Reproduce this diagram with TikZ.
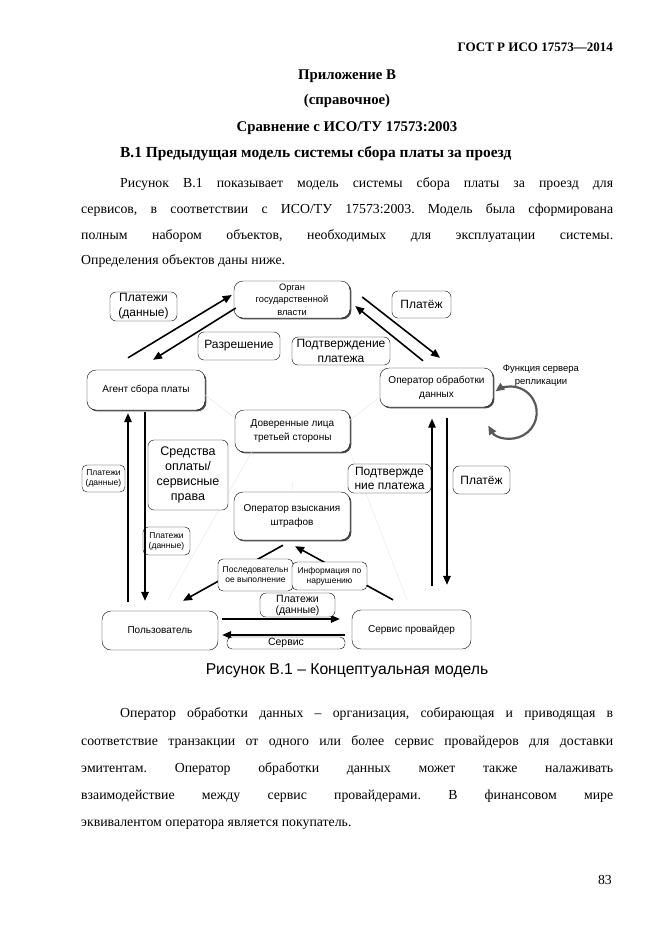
\documentclass[tikz,border=0pt]{standalone}
\usepackage{fontspec}
\setmainfont{Liberation Serif}
\newfontfamily\diagfont{Liberation Sans}
\usetikzlibrary{positioning,arrows.meta,shadows}
\frenchspacing

\newcommand\jline[2]{\makebox[#1][s]{#2}}

\tikzset{
  entbase/.style={draw, rounded corners=9pt, fill=white, align=center, inner sep=1pt,
    font=\diagfont\fontsize{10}{14}\selectfont},
  entity/.style={entbase, drop shadow={shadow xshift=1.4pt, shadow yshift=-1.4pt, fill=black!70, opacity=1}},
  tag/.style={draw, rounded corners=6pt, fill=white, align=center, inner sep=0.5pt,
    font=\diagfont\fontsize{12}{15}\selectfont},
  smalltag/.style={tag, rounded corners=5pt, font=\diagfont\fontsize{8.5}{10}\selectfont},
  flow/.style={-{Triangle[length=9pt,width=7.5pt]}, line width=1.6pt},
  faint/.style={black!10, line width=0.4pt},
  textline/.style={anchor=base west, inner sep=0pt, font=\fontsize{13.8}{16}\selectfont},
  headline/.style={anchor=base, inner sep=0pt, font=\bfseries\fontsize{14.8}{17}\selectfont}
}

\begin{document}
\begin{tikzpicture}[x=1pt, y=-1pt]
  \fill[white] (0,0) rectangle (661,935);
  \useasboundingbox (0,0) rectangle (661,935);

  % page text
  \node[anchor=base east, inner sep=0pt, font=\bfseries\fontsize{13}{15}\selectfont] (hdr) at (613,51) {ГОСТ Р ИСО 17573—2014};
  \node[headline] (app) at (347,79) {Приложение В};
  \node[headline] (ref) at (347,104) {(справочное)};
  \node[headline] (cmp) at (347,131) {Сравнение с ИСО/ТУ 17573:2003};
  \node[headline, anchor=base west, font=\bfseries\fontsize{15.4}{17}\selectfont] (sec) at (120,157) {В.1 Предыдущая модель системы сбора платы за проезд};

  \node[textline] (p1a) at (120,187) {\jline{493pt}{Рисунок В.1 показывает модель системы сбора платы за проезд для}};
  \node[textline] (p1b) at (81,213) {\jline{532pt}{сервисов, в соответствии с ИСО/ТУ 17573:2003. Модель была сформирована}};
  \node[textline] (p1c) at (81,239) {\jline{532pt}{полным набором объектов, необходимых для эксплуатации системы.}};
  \node[textline] (p1d) at (81,264) {Определения объектов даны ниже.};

  % boxes
  \node (organ) [entity, minimum width=116pt, minimum height=37pt, font=\diagfont\fontsize{9.3}{12.5}\selectfont] at (292,299.5) {Орган\\государственной\\власти};
  \node (agent) [entity, minimum width=118pt, minimum height=40pt] at (146,390) {Агент сбора платы};
  \node (opdata) [entity, minimum width=113pt, minimum height=39pt] at (436.5,387.5) {Оператор обработки\\данных};
  \node (trusted) [entity, minimum width=115pt, minimum height=42pt] at (292.5,431) {Доверенные лица\\третьей стороны};
  \node (fine) [entity, minimum width=116pt, minimum height=48pt] at (292,516) {Оператор взыскания\\штрафов};
  \node (user) [entbase, minimum width=116pt, minimum height=39pt] at (160,630.5) {Пользователь};
  \node (service) [entbase, minimum width=119pt, minimum height=39pt] at (411.5,629.5) {Сервис провайдер};

  % faint guide lines
  \draw[faint] ([yshift=-5pt]agent.east) -- ([yshift=13pt]trusted.west);
  \draw[faint] ([yshift=11pt]trusted.east) -- ([yshift=-9.5pt]opdata.west);
  \draw[faint] ([xshift=-41pt]trusted.south) -- ([xshift=8pt,yshift=11pt]user.north);
  \draw[faint] (trusted.south east) -- ([xshift=-4.5pt,yshift=10pt]service.north);
  \draw[faint] ([yshift=-30pt]trusted.south) -- ([yshift=2pt]fine.north);

  % labels
  \node (payTop) [tag, minimum width=67pt, minimum height=29pt] at (143.5,306.5) {Платежи\\(данные)};
  \node (payOne) [tag, minimum width=59pt, minimum height=27pt] at (421.5,304.5) {Платёж};
  \node (perm) [tag, minimum width=82pt, minimum height=28pt] at (239,346) {Разрешение};
  \node (confTop) [tag, minimum width=98pt, minimum height=28pt] at (341,351) {Подтверждение\\платежа};
  \node (repl) [inner sep=0pt, align=center, font=\diagfont\fontsize{9.5}{12.5}\selectfont] at (541,375.5) {Функция сервера\\репликации};
  \node (means) [tag, minimum width=80pt, minimum height=70pt, font=\diagfont\fontsize{12.5}{15}\selectfont] at (188,475) {Средства\\оплаты/\\сервисные\\права};
  \node (payL) [smalltag, minimum width=43pt, minimum height=27pt] at (103.5,478.5) {Платежи\\(данные)};
  \node (payM) [smalltag, minimum width=47pt, minimum height=28pt] at (166.5,541) {Платежи\\(данные)};
  \node (confR) [tag, minimum width=83pt, minimum height=29pt, font=\diagfont\fontsize{12}{14.5}\selectfont] at (389.5,478.5) {Подтвержде\\ние платежа};
  \node (payTwo) [tag, minimum width=57pt, minimum height=28pt] at (481.5,480) {Платёж};

  % arrows
  \draw[flow] ([xshift=-18pt,yshift=12pt]agent.north) -- ([xshift=-2pt,yshift=4.5pt]organ.west);
  \draw[flow] ([xshift=2pt,yshift=-8.5pt]organ.west) -- ([xshift=7pt,yshift=10pt]agent.north);
  \draw[flow] ([xshift=12pt,yshift=2.5pt]organ.east) -- ([xshift=3.5pt,yshift=10pt]opdata.north);
  \draw[flow] ([xshift=-13.5pt,yshift=7pt]opdata.north) -- ([xshift=5pt,yshift=-6.5pt]organ.east);
  \draw[flow] ([xshift=-32pt,yshift=9pt]user.north) -- ([xshift=-18pt,yshift=-3pt]agent.south);
  \draw[flow] ([xshift=-1pt,yshift=-2pt]agent.south) -- ([xshift=-15pt,yshift=10pt]user.north);
  \draw[flow] ([xshift=20.5pt,yshift=24pt]service.north) -- ([xshift=-4.5pt,yshift=-11.5pt]opdata.south);
  \draw[flow] ([xshift=10.5pt,yshift=-10.5pt]opdata.south) -- ([xshift=35.5pt,yshift=25pt]service.north);
  \draw[flow] ([xshift=4pt,yshift=11.5pt]user.east) -- ([xshift=-12pt,yshift=10.5pt]service.west);
  \draw[flow] ([xshift=-7pt,yshift=-5.5pt]service.west) -- ([xshift=4pt,yshift=-4.5pt]user.east);
  \draw[flow] ([xshift=-9pt,yshift=-5pt]fine.south) -- ([xshift=23pt,yshift=10pt]user.north);
  \draw[flow] ([xshift=-18.5pt,yshift=10pt]service.north) -- ([xshift=3pt,yshift=-6pt]fine.south);
  \draw[{Triangle[length=9pt,width=7.5pt]}-{Triangle[length=9pt,width=7.5pt]}, black!65, line width=2.2pt]
    ([xshift=-5pt,yshift=-38pt]opdata.east) arc[start angle=150, end angle=-126, radius=26];

  \node (seq) [smalltag, minimum width=75pt, minimum height=32pt] at (255.5,575) {Последовательн\\ое выполнение};
  \node (info) [smalltag, minimum width=75pt, minimum height=28pt] at (329.5,576) {Информация по\\нарушению};
  \node (payB) [tag, minimum width=75pt, minimum height=24pt, font=\diagfont\fontsize{10.5}{11}\selectfont] at (297.5,605) {Платежи\\(данные)};
  \node (servTag) [tag, rounded corners=5pt, inner sep=0pt, minimum width=118pt, minimum height=12pt, font=\diagfont\fontsize{10.5}{11}\selectfont] at (286,643) {Сервис};

  % caption and text below
  \node[anchor=base, inner sep=0pt, font=\diagfont\fontsize{15.7}{18}\selectfont] (cap) at (347,674) {Рисунок В.1 – Концептуальная модель};

  \node[textline] (p2a) at (120,717) {\jline{493pt}{Оператор обработки данных – организация, собирающая и приводящая в}};
  \node[textline] (p2b) at (81,745) {\jline{532pt}{соответствие транзакции от одного или более сервис провайдеров для доставки}};
  \node[textline] (p2c) at (81,772) {\jline{532pt}{эмитентам. Оператор обработки данных может также налаживать}};
  \node[textline] (p2d) at (81,799) {\jline{532pt}{взаимодействие между сервис провайдерами. В финансовом мире}};
  \node[textline] (p2e) at (81,826) {эквивалентом оператора является покупатель.};

  \node[anchor=base east, inner sep=0pt, font=\fontsize{13.8}{16}\selectfont] (pgno) at (612,884) {83};
\end{tikzpicture}
\end{document}
